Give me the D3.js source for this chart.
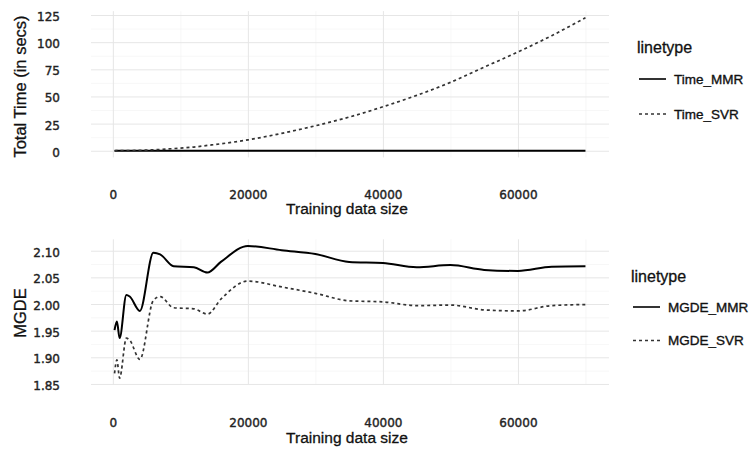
<!DOCTYPE html>
<html>
<head>
<meta charset="utf-8">
<script src="https://cdn.jsdelivr.net/npm/d3@7"></script>
<style>
  html, body { margin: 0; padding: 0; background: #fff; }
  svg { display: block; }
</style>
</head>
<body>
<svg id="chart" width="751" height="454"></svg>
<script>
// ---------------- data ----------------
const sizes    = [250, 600, 1000, 2000, 2500, 4000, 6000, 7000, 9000, 12000, 14000, 16000, 20000,
                  25000, 30000, 35000, 40000, 45000, 50000, 55000, 60000, 65000, 70000];
const timeMMR  = [0.0, 0.0, 0.01, 0.01, 0.01, 0.01, 0.02, 0.02, 0.02, 0.03, 0.03, 0.03, 0.04,
                  0.04, 0.05, 0.05, 0.06, 0.06, 0.07, 0.07, 0.08, 0.08, 0.09];
const timeSVR  = [0.02, 0.03, 0.05, 0.1, 0.15, 0.4, 0.9, 1.2, 2.0, 3.4, 4.9, 6.4, 10,
                  16, 23, 31, 40.5, 51, 63, 77, 91, 106, 122.5];
const mgdeMMR  = [1.951, 1.967, 1.936, 2.017, 2.014, 1.987, 2.096, 2.093, 2.071, 2.069, 2.059, 2.079, 2.109,
                  2.101, 2.094, 2.079, 2.077, 2.069, 2.073, 2.064, 2.062, 2.070, 2.071];
const mgdeSVR  = [1.870, 1.895, 1.861, 1.936, 1.932, 1.896, 2.007, 2.014, 1.993, 1.991, 1.981, 2.009, 2.043,
                  2.032, 2.020, 2.006, 2.004, 1.997, 1.998, 1.989, 1.987, 1.997, 1.999];
const xTicks      = [0, 20000, 40000, 60000];
const xMinor      = [10000, 30000, 50000, 70000];
const timeTicks   = [0, 25, 50, 75, 100, 125];
const timeMinor   = [12.5, 37.5, 62.5, 87.5, 112.5];
const mgdeTicks   = [1.85, 1.90, 1.95, 2.00, 2.05, 2.10];
const mgdeMinor   = [1.875, 1.925, 1.975, 2.025, 2.075];
const topLabels   = ["Time_MMR", "Time_SVR"];
const botLabels   = ["MGDE_MMR", "MGDE_SVR"];

// ---------------- helpers ----------------
const svg = d3.select("#chart");
svg.append("rect").attr("width", 751).attr("height", 454).attr("fill", "#fff");

function expand(ext) {
  const p = (ext[1] - ext[0]) * 0.05;
  return [ext[0] - p, ext[1] + p];
}
const TITLE_FONT = "'Liberation Sans', Arial, Helvetica, sans-serif";
const TICK_FONT = "'DejaVu Sans', sans-serif";

const x = d3.scaleLinear().domain(expand(d3.extent(sizes))).range([91, 609]);

const styles = [
  { stroke: "#000", width: 2.0, dash: null },
  { stroke: "#333", width: 1.7, dash: "3,3" }
];

function heavy(sel, c, w) {
  sel.attr("stroke", c).attr("stroke-width", w).attr("paint-order", "stroke");
}

function panel(opts) {
  const { y, majorY, minorY, series, tickFmt, xLabelY, xTitleY, yTitle, yTitleY, legend } = opts;
  const g = svg.append("g");
  const [y0, y1] = y.range();
  const [xa, xb] = x.range();

  // minor gridlines
  g.append("g").call(d3.axisLeft(y).tickValues(minorY).tickSize(-(xb - xa)).tickFormat(""))
    .attr("transform", `translate(${xa},0)`)
    .call(s => s.select(".domain").remove())
    .call(s => s.selectAll("line").attr("stroke", "#f1f1f1").attr("stroke-width", 0.6));
  g.append("g").call(d3.axisBottom(x).tickValues(xMinor).tickSize(-(y0 - y1)).tickFormat(""))
    .attr("transform", `translate(0,${y0})`)
    .call(s => s.select(".domain").remove())
    .call(s => s.selectAll("line").attr("stroke", "#f1f1f1").attr("stroke-width", 0.6));
  // major gridlines
  g.append("g").call(d3.axisLeft(y).tickValues(majorY).tickSize(-(xb - xa)).tickFormat(""))
    .attr("transform", `translate(${xa},0)`)
    .call(s => s.select(".domain").remove())
    .call(s => s.selectAll("line").attr("stroke", "#e6e6e6").attr("stroke-width", 1));
  g.append("g").call(d3.axisBottom(x).tickValues(xTicks).tickSize(-(y0 - y1)).tickFormat(""))
    .attr("transform", `translate(0,${y0})`)
    .call(s => s.select(".domain").remove())
    .call(s => s.selectAll("line").attr("stroke", "#e6e6e6").attr("stroke-width", 1));

  // y tick labels
  g.append("g").attr("transform", `translate(60,0)`)
    .call(d3.axisLeft(y).tickValues(majorY).tickSize(0).tickPadding(0).tickFormat(tickFmt))
    .call(s => s.select(".domain").remove())
    .call(s => s.selectAll("text").attr("font-family", TICK_FONT).attr("font-size", 12)
      .attr("fill", "#222").attr("dy", "0.45em").call(heavy, "#222", 0.4));

  // x tick labels
  g.append("g").attr("transform", `translate(0,${xLabelY})`)
    .call(d3.axisBottom(x).tickValues(xTicks).tickSize(0).tickPadding(0).tickFormat(d3.format("d")))
    .call(s => s.select(".domain").remove())
    .call(s => s.selectAll("text").attr("font-family", TICK_FONT).attr("font-size", 12)
      .attr("fill", "#222").attr("y", 0).attr("dy", 0).call(heavy, "#222", 0.4));

  // lines
  series.forEach((vals, i) => {
    const line = d3.line().x((d, j) => x(sizes[j])).y(d => y(d)).curve(d3.curveMonotoneX);
    g.append("path").datum(vals).attr("d", line).attr("fill", "none")
      .attr("stroke", styles[i].stroke).attr("stroke-width", styles[i].width)
      .attr("stroke-dasharray", styles[i].dash).attr("stroke-linejoin", "round");
  });

  // axis titles
  g.append("text").attr("x", 347).attr("y", xTitleY).attr("text-anchor", "middle")
    .attr("font-family", TITLE_FONT).attr("font-size", 15.5).attr("fill", "#111")
    .call(heavy, "#111", 0.3)
    .text("Training data size");
  g.append("text").attr("transform", `translate(25.5,${yTitleY}) rotate(-90)`)
    .attr("text-anchor", "middle").attr("font-family", TITLE_FONT).attr("font-size", 16.5)
    .attr("fill", "#111").call(heavy, "#111", 0.3).text(yTitle);

  // legend
  const lg = g.append("g");
  lg.append("text").attr("x", legend.x).attr("y", legend.titleY)
    .attr("font-family", TITLE_FONT).attr("font-size", 16).attr("fill", "#111")
    .call(heavy, "#111", 0.3).text("linetype");
  legend.labels.forEach((lab, i) => {
    const ry = legend.rows[i];
    lg.append("line").attr("x1", legend.keyX).attr("x2", legend.keyX + 27)
      .attr("y1", ry).attr("y2", ry)
      .attr("stroke", styles[i].stroke).attr("stroke-width", styles[i].width - 0.4)
      .attr("stroke-dasharray", styles[i].dash);
    lg.append("text").attr("x", legend.keyX + 35).attr("y", ry).attr("dy", "0.36em")
      .attr("font-family", TITLE_FONT).attr("font-size", 13.5).attr("fill", "#111")
      .call(heavy, "#111", 0.35).text(lab);
  });
}

// top panel
const yTop = d3.scaleLinear().domain(expand(d3.extent(timeMMR.concat(timeSVR)))).range([157.4, 11.1]);
panel({
  y: yTop, majorY: timeTicks, minorY: timeMinor, series: [timeMMR, timeSVR],
  tickFmt: d3.format("d"), xLabelY: 198.5, xTitleY: 214,
  yTitle: "Total Time (in secs)", yTitleY: 86.5,
  legend: { x: 637, titleY: 53, keyX: 639, rows: [79, 114], labels: topLabels }
});

// bottom panel
const yBot = d3.scaleLinear().domain(expand(d3.extent(mgdeMMR.concat(mgdeSVR)))).range([384.7, 239.3]);
panel({
  y: yBot, majorY: mgdeTicks, minorY: mgdeMinor, series: [mgdeMMR, mgdeSVR],
  tickFmt: d3.format(".2f"), xLabelY: 426.7, xTitleY: 443,
  yTitle: "MGDE", yTitleY: 313,
  legend: { x: 631, titleY: 281.5, keyX: 633, rows: [307, 340.5], labels: botLabels }
});
</script>
</body>
</html>
